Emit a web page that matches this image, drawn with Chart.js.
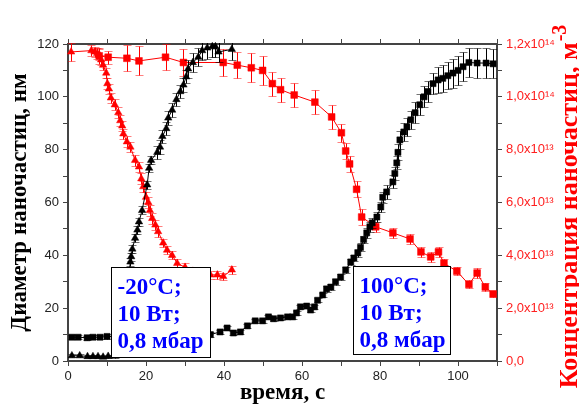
<!DOCTYPE html>
<html lang="ru">
<head>
<meta charset="UTF-8">
<title>Диаметр и концентрация наночастиц</title>
<script src="https://cdn.jsdelivr.net/npm/chart.js@4.4.0/dist/chart.umd.min.js"></script>
<style>
  body { margin: 0; background: #fff; }
</style>
</head>
<body>
<canvas id="plot" width="579" height="407"></canvas>
<script>
// 100°C: diameter (nm) vs time (s)
const t100 = [1,2.6,4.9,6.4,8.2,10, 12,15,18,21,24,27,30,33,
  36.5,39,40.8,42.4,44.2,46,48,49.9,51.4,52.7, 54.5,56.3,57.6,58.6,59.6,61.2,62.2,63.2,64,65.3,
  66.3,67.4,68.6,69.9,71.2,72.5,73.3,74.3,75,75.8, 76.6,77.4,78,79.2,80.2,80.7,81.7,83.3,83.8,84.3,
  84.6,85.1,86.1,86.9,87.9,89,90.2,91.3,92.3,93.6, 94.9,96.1,97.4,98.7,100,101.3,102.8,104.9,107.2,109];
const d100 = [9,9,8.8,9,9,9.3, 9.3,9.5,9.5,9.8,10,10,10,10,
  10,11,12.5,10.6,11,13.3,15.2,15.2,16.7,16, 16.3,16.7,16.7,18.2,20.5,20.8,19.3,20.5,23,25,
  27.3,28,30,31.8,34.5,37.5,39,40.9,43,46, 48.5,50.8,52.3,54.5,58.3,62,64,67.8,71,75,
  79,83.7,86.7,88.6,91.3,94,97,100,102,105, 106.4,107,108,109,110,111.4,113,112.8,112.8,112.5];
const d100Err = [0.8,0.8,0.8,0.8,0.8,0.8, 0.8,0.8,0.8,0.8,0.8,0.8,0.8,0.8,
  0.8,0.8,0.8,0.8,0.8,0.8,0.8,0.8,0.8,0.8, 0.8,0.8,0.8,0.8,0.8,0.8,0.8,0.8,0.8,0.8,
  1.2,1.2,1.2,1.2,1.2,1.2,1.2,1.5,1.5,1.5, 2,2,2,2,2,2,2.5,2.5,2.5,2.5,
  3,3.5,3.5,3.5,3.5,4,4,4,4,4, 5,5,5,5.5,5.5,5.5,5.5,5.5,5.5,5.5];

// -20°C: diameter (nm) vs time (s)
const t20d = [1,3,5,6.4,7.7,9,10.3, 12,13,14,15,
  16,16.2,16.5,17.2,17.8,18.2,19,20.3,20.8,21.3,
  22.9,23.6,24.2,25.2,25.7,26.7,27.8,28.8,29.6,30.3,
  30.8,32,33.4,34.4,35.7,37,37.8,38.6,42];
const d20 = [2,2,1.7,1.7,1.7,1.5,1.8, 2,4,12,25,
  37.5,39.5,42.4,46.5,49.6,52.7,57,66.7,73,76,
  79,81,85,88,92,95,99,102,104.5,107.6,
  110.6,113,115,117.5,118.5,119,119,117,118];
const d20Err = [0.5,0.5,0.5,0.5,0.5,0.5,0.5, 1,1,1,1,
  1.5,1.5,1.5,1.5,1.5,1.5,1.5,1.5,1.5,1.5,
  2.5,2.5,2.5,2.5,2.5,2.5,2.5,2.5,2.5,2.5,
  3.5,3.5,3.5,3.5,4,4,4,4,4];

// -20°C: concentration (x10^13 m^-3) vs time (s)
const t20c = [0.8,6,6.8,7.5,8,8.5,9,9.8,10.1,10.5,
  11,12,12.9,13.4,13.9,14.2,15.1,16,17.2,18.2,
  18.8,19.3,20,20.6,21,21.6,22.4,23.1,24.4,25.4,
  26.7,28,30,32,34,36.5,38.3,39.8,42];
const c20 = [11.7,11.75,11.7,11.65,11.6,11.4,11.2,10.9,10.5,10.3,
  9.96,9.7,9.4,9.1,8.9,8.6,8.3,8.1,7.6,7.35,
  6.9,6.6,6.2,6.0,5.7,5.4,5.15,4.9,4.47,4.2,
  4.0,3.7,3.55,3.4,3.3,3.26,3.26,3.2,3.45];
const c20Err = [0.35,0.2,0.2,0.2,0.2,0.2,0.2,0.2,0.2,0.2,
  0.2,0.2,0.2,0.2,0.2,0.2,0.2,0.2,0.2,0.2,
  0.2,0.2,0.2,0.2,0.2,0.2,0.2,0.2,0.15,0.15,
  0.15,0.15,0.15,0.15,0.15,0.15,0.15,0.15,0.15];

// 100°C: concentration (x10^13 m^-3) vs time (s)
const t100c = [8,10.3,15.1,18.2,25,29.6,39.8,43.4,47,49.9,
  52.4,54.5,58,63.3,67.6,70.1,71.2,72.2,74,75.3,
  78.9,83.3,87.7,90.5,93,95,96.4,99.7,102.8,104.9,
  107,109];
const c100 = [11.55,11.5,11.46,11.36,11.5,11.3,11.3,11.2,11.1,11.0,
  10.5,10.27,10.07,9.8,9.24,8.64,7.95,7.46,6.5,5.45,
  5.08,4.85,4.62,4.13,3.94,4.13,3.7,3.4,2.9,3.33,
  2.8,2.54];
const c100Err = [0.3,0.25,0.5,0.55,0.5,0.5,0.5,0.5,0.55,0.55,
  0.45,0.45,0.45,0.45,0.45,0.35,0.3,0.3,0.3,0.3,
  0.2,0.2,0.2,0.2,0.2,0.2,0.15,0.15,0.15,0.2,
  0.15,0.1];

const notes = [
  { x0: 11, x1: 36.4, yTop: 35.6, yBot: 1.6, lines: ['-20°C;', '10 Вт;', '0,8 мбар'] },
  { x0: 73, x1: 97.9, yTop: 36, yBot: 2.6, lines: ['100°C;', '10 Вт;', '0,8 мбар'] }
];

const E13 = 1e13;
const pts = (xs, ys, k) => xs.map((x, i) => ({ x: x, y: ys[i] * (k || 1) }));
const scaled = (arr, k) => arr.map(v => v * k);

const SUP = { '0':'⁰','1':'¹','2':'²','3':'³','4':'⁴','5':'⁵','6':'⁶','7':'⁷','8':'⁸','9':'⁹','-':'⁻' };
const sup = s => String(s).split('').map(c => SUP[c]).join('');
function sciLabel(v) {
  let n = Math.round(v / 1e12);
  if (n === 0) return '0,0';
  if (n % 20 !== 0) return '';
  let e = 12, m = n;
  while (m >= 10) { m /= 10; e++; }
  return m.toFixed(1).replace('.', ',') + 'x10' + sup(e);
}

const serif = '"Liberation Serif", "Times New Roman", serif';

// error bars drawn under each dataset's markers
const errorBars = {
  id: 'errorBars',
  beforeDatasetDraw(chart, args) {
    const ds = chart.data.datasets[args.index];
    if (!ds.errors) return;
    const ys = chart.scales[ds.yAxisID];
    const ctx = chart.ctx;
    const a = chart.chartArea;
    ctx.save();
    ctx.beginPath();
    ctx.rect(a.left, a.top - 1, a.right - a.left, a.bottom - a.top + 2);
    ctx.clip();
    ctx.lineWidth = 1;
    args.meta.data.forEach((p, i) => {
      const d = ds.data[i], e = ds.errors[i];
      const yt = Math.round(ys.getPixelForValue(d.y + e)) + 0.5;
      const yb = Math.round(ys.getPixelForValue(d.y - e)) + 0.5;
      const x = Math.round(p.x) + 0.5;
      ctx.strokeStyle = ds.barColor;
      ctx.beginPath(); ctx.moveTo(x, yt); ctx.lineTo(x, yb); ctx.stroke();
      ctx.strokeStyle = ds.capColor;
      ctx.beginPath();
      ctx.moveTo(x - 4, yt); ctx.lineTo(x + 4, yt);
      ctx.moveTo(x - 4, yb); ctx.lineTo(x + 4, yb);
      ctx.stroke();
    });
    ctx.restore();
  }
};

// text boxes and the right axis title
const extras = {
  id: 'extras',
  afterDatasetsDraw(chart) {
    const ctx = chart.ctx, xs = chart.scales.x, ys = chart.scales.y;
    ctx.save();
    notes.forEach(n => {
      const l = Math.round(xs.getPixelForValue(n.x0)) + 0.5;
      const r = Math.round(xs.getPixelForValue(n.x1)) + 0.5;
      const t = Math.round(ys.getPixelForValue(n.yTop)) + 0.5;
      const b = Math.round(ys.getPixelForValue(n.yBot)) + 0.5;
      ctx.fillStyle = '#fff';
      ctx.fillRect(l, t, r - l, b - t);
      ctx.strokeStyle = '#000';
      ctx.lineWidth = 1;
      ctx.strokeRect(l, t, r - l, b - t);
      ctx.fillStyle = '#0000ff';
      ctx.font = 'bold 23px ' + serif;
      ctx.textBaseline = 'alphabetic';
      n.lines.forEach((s, i) => ctx.fillText(s, l + 6, t + 26 + i * 27));
    });
    ctx.restore();
  },
  afterDraw(chart) {
    const ctx = chart.ctx;
    ctx.save();
    ctx.translate(570, 207);
    ctx.rotate(-Math.PI / 2);
    ctx.fillStyle = '#ff0000';
    ctx.textBaseline = 'middle';
    const main = 'Концентрация наночастиц, м';
    ctx.font = 'bold 26px ' + serif;
    const w1 = ctx.measureText(main).width;
    ctx.font = 'bold 20px ' + serif;
    const w2 = ctx.measureText('-3').width;
    const start = -(w1 + w2) / 2;
    ctx.font = 'bold 26px ' + serif;
    ctx.fillText(main, start, 0);
    ctx.font = 'bold 20px ' + serif;
    ctx.fillText('-3', start + w1 + 1, -9);
    ctx.restore();
  }
};

const axisColor = '#444';
const tickFont = { family: '"Liberation Sans", Arial, sans-serif', size: 13 };

new Chart(document.getElementById('plot').getContext('2d'), {
  type: 'scatter',
  data: {
    datasets: [
      {
        data: pts(t100, d100), errors: d100Err, yAxisID: 'y',
        barColor: '#000', capColor: 'rgba(0,0,0,0.55)',
        showLine: true, borderColor: '#000', borderWidth: 1,
        pointStyle: 'rect', pointRadius: 4.3, pointBackgroundColor: '#000', pointBorderColor: '#000',
        pointBorderWidth: 0.5, clip: false
      },
      {
        data: pts(t20d, d20), errors: d20Err, yAxisID: 'y',
        barColor: '#000', capColor: 'rgba(0,0,0,0.55)',
        showLine: true, borderColor: '#000', borderWidth: 1,
        pointStyle: 'triangle', pointRadius: 4.3, pointBackgroundColor: '#000', pointBorderColor: '#000',
        pointBorderWidth: 0.5, clip: false
      },
      {
        data: pts(t100c, c100, E13), errors: scaled(c100Err, E13), yAxisID: 'y2',
        barColor: '#ff0000', capColor: 'rgba(255,0,0,0.5)',
        showLine: true, borderColor: '#ff0000', borderWidth: 1,
        pointStyle: 'rect', pointRadius: 4.8, pointBackgroundColor: '#ff0000', pointBorderColor: '#ff0000',
        pointBorderWidth: 0.5, clip: false
      },
      {
        data: pts(t20c, c20, E13), errors: scaled(c20Err, E13), yAxisID: 'y2',
        barColor: '#ff0000', capColor: 'rgba(255,0,0,0.5)',
        showLine: true, borderColor: '#ff0000', borderWidth: 1,
        pointStyle: 'triangle', pointRadius: 4.3, pointBackgroundColor: '#ff0000', pointBorderColor: '#ff0000',
        pointBorderWidth: 0.5, clip: false
      }
    ]
  },
  options: {
    responsive: false,
    animation: false,
    layout: { padding: 0 },
    plugins: { legend: { display: false }, tooltip: { enabled: false } },
    scales: {
      x: {
        type: 'linear', position: 'bottom', min: 0, max: 110,
        afterFit: s => { s.height = 46; },
        border: { color: axisColor, width: 2 },
        grid: { drawOnChartArea: false, tickLength: 5, color: axisColor, tickWidth: 1 },
        ticks: { stepSize: 10, padding: 3, color: '#222', font: tickFont, maxRotation: 0,
          callback: v => (v % 20 === 0 ? String(v) : '') },
        title: { display: true, text: 'время, с', color: '#000',
          font: { family: serif, size: 23, weight: 'bold' },
          padding: { top: 0, bottom: 0 } }
      },
      x2: {
        type: 'linear', position: 'top', min: 0, max: 110,
        afterFit: s => { s.height = 44; },
        border: { color: axisColor, width: 2 },
        grid: { drawOnChartArea: false, tickLength: 5, color: axisColor },
        ticks: { stepSize: 10, font: { size: 1 }, callback: () => '' }
      },
      y: {
        type: 'linear', position: 'left', min: 0, max: 120,
        afterFit: s => { s.width = 68; },
        border: { color: axisColor, width: 2 },
        grid: { drawOnChartArea: false, tickLength: 5, color: axisColor },
        ticks: { stepSize: 10, padding: 4, color: '#222', font: tickFont,
          callback: v => (v % 20 === 0 ? String(v) : '') },
        title: { display: true, text: 'Диаметр наночастиц, нм', color: '#000',
          font: { family: serif, size: 23, weight: 'bold' },
          padding: { top: 6, bottom: 0 } }
      },
      y2: {
        type: 'linear', position: 'right', min: 0, max: 1.2e14,
        afterFit: s => { s.width = 82; },
        border: { color: axisColor, width: 2 },
        grid: { drawOnChartArea: false, tickLength: 5, color: axisColor },
        ticks: { stepSize: 1e13, padding: 4, color: '#ff2020', font: tickFont, callback: sciLabel }
      }
    }
  },
  plugins: [errorBars, extras]
});
</script>
</body>
</html>
